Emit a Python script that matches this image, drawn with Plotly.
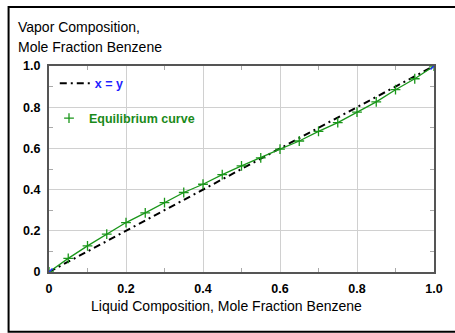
import plotly.graph_objects as go

# Data
x_liquid = [0, 0.05, 0.1, 0.15, 0.2, 0.25, 0.3, 0.35, 0.4, 0.45, 0.5,
            0.55, 0.6, 0.65, 0.7, 0.75, 0.8, 0.85, 0.9, 0.95, 1.0]
y_vapor = [0, 0.066, 0.127, 0.184, 0.240, 0.287, 0.337, 0.386, 0.426, 0.473, 0.515,
           0.554, 0.596, 0.636, 0.683, 0.725, 0.776, 0.826, 0.885, 0.938, 1.0]
diag_x = [0, 1]
diag_y = [0, 1]
tick_vals = [0, 0.2, 0.4, 0.6, 0.8, 1.0]
tick_text = ["0", "0.2", "0.4", "0.6", "0.8", "1.0"]
minor_vals = [0.1, 0.3, 0.5, 0.7, 0.9]

GREEN = "#1a961a"
FONT = "Liberation Sans, Arial, sans-serif"

fig = go.Figure()

fig.add_trace(go.Scatter(
    x=diag_x, y=diag_y, mode="lines",
    line=dict(color="black", width=2, dash="7px,4px,2px,4px"),
    name="<b><span style='color:#1f1fff'>x = y</span></b>",
    legend="legend",
))
fig.add_trace(go.Scatter(
    x=x_liquid, y=y_vapor, mode="lines",
    line=dict(color=GREEN, width=1.3),
    showlegend=False,
))
fig.add_trace(go.Scatter(
    x=x_liquid, y=y_vapor, mode="markers",
    marker=dict(symbol="cross-thin", size=7, line=dict(color=GREEN, width=1.3)),
    name="<b><span style='color:#1a8a1a'>Equilibrium curve</span></b>",
    legend="legend2",
))
fig.add_trace(go.Scatter(
    x=diag_x, y=diag_y, mode="markers",
    marker=dict(symbol="x-thin", size=7, line=dict(color="#2030ff", width=1.5)),
    showlegend=False,
))

axis_common = dict(
    range=[0, 1.0],
    tickvals=tick_vals,
    ticktext=tick_text,
    ticks="",
    showgrid=True,
    gridcolor="#d0d0d0",
    gridwidth=1,
    zeroline=False,
    showline=True,
    linecolor="#555555",
    linewidth=2,
    mirror="ticks",
    tickfont=dict(family=FONT, size=12.5, color="black", weight="bold"),
    minor=dict(tickvals=minor_vals, ticks="inside", ticklen=4,
               tickcolor="#aaaaaa", showgrid=False),
)

fig.update_layout(
    width=455, height=333,
    margin=dict(l=49, r=13, t=66, b=61),
    plot_bgcolor="white",
    paper_bgcolor="white",
    font=dict(family=FONT, size=12, color="black"),
    xaxis=dict(**axis_common, ticklabelstandoff=4),
    yaxis=dict(**axis_common, ticklabelstandoff=4),
    legend=dict(x=0.015, y=0.915, xanchor="left", yanchor="middle",
                bgcolor="rgba(0,0,0,0)", font=dict(size=12.5, family=FONT)),
    legend2=dict(x=0.0, y=0.745, xanchor="left", yanchor="middle",
                 bgcolor="rgba(0,0,0,0)", font=dict(size=12.5, family=FONT)),
    annotations=[
        dict(text="Vapor Composition,", xref="paper", yref="paper",
             x=-0.086, y=1.191, xanchor="left", yanchor="middle",
             showarrow=False, font=dict(size=14, family=FONT)),
        dict(text="Mole Fraction Benzene", xref="paper", yref="paper",
             x=-0.086, y=1.094, xanchor="left", yanchor="middle",
             showarrow=False, font=dict(size=14, family=FONT)),
        dict(text="Liquid Composition, Mole Fraction Benzene", xref="paper", yref="paper",
             x=0.461, y=-0.165, xanchor="center", yanchor="middle",
             showarrow=False, font=dict(size=14, family=FONT)),
    ],
    shapes=[
        dict(type="rect", xref="paper", yref="paper",
             x0=-0.105, x1=1.2, y0=-0.29, y1=1.286,
             line=dict(color="black", width=2)),
    ],
)

fig.write_html(
    "out.html",
    config={"displayModeBar": False},
    post_script="document.body.style.margin='0';document.body.style.overflow='hidden';",
)
